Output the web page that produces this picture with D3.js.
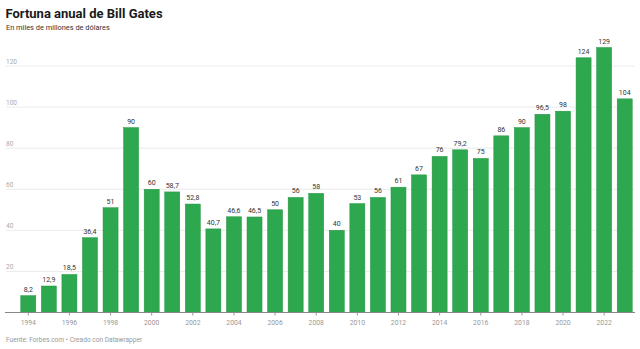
<!DOCTYPE html>
<html>
<head>
<meta charset="utf-8">
<script src="https://cdn.jsdelivr.net/npm/d3@7"></script>
<style>
html,body{margin:0;padding:0;background:#fff;}
svg{display:block;font-family:Roboto, "Noto Sans", sans-serif;}
</style>
</head>
<body>
<svg id="chart" width="640" height="349"></svg>
<script>
const years = d3.range(1994, 2024).map(String);
const fortune = [8.2, 12.9, 18.5, 36.4, 51, 90, 60, 58.7, 52.8, 40.7, 46.6, 46.5, 50, 56, 58, 40, 53, 56, 61, 67, 76, 79.2, 75, 86, 90, 96.5, 98, 124, 129, 104];
const yTicks = [20, 40, 60, 80, 100, 120];
const xTickYears = ["1994","1996","1998","2000","2002","2004","2006","2008","2010","2012","2014","2016","2018","2020","2022"];
const title = "Fortuna anual de Bill Gates";
const subtitle = "En miles de millones de dólares";
const footer = "Fuente: Forbes.com • Creado con Datawrapper";

const svg = d3.select("#chart");
const fmt = v => String(v).replace(".", ",");

const x = d3.scaleBand().domain(years).range([18, 635]).paddingInner(0.27).paddingOuter(0.135);
const y = d3.scaleLinear().domain([0, 120]).range([312.5, 66]);

svg.append("text").attr("x", 5.5).attr("y", 17.5).text(title)
  .attr("font-size", 13).attr("font-weight", 700).attr("fill", "#1a1a1a");
svg.append("text").attr("x", 6).attr("y", 30).text(subtitle)
  .attr("font-size", 7.4).attr("fill", "#333");

// gridlines
const grid = svg.append("g");
yTicks.forEach(t => {
  grid.append("line").attr("x1", 6).attr("x2", 634).attr("y1", y(t)).attr("y2", y(t))
    .attr("stroke", "#e6e6e6").attr("stroke-width", 0.8);
  grid.append("text").attr("x", 6).attr("y", y(t) - 2.5).text(t)
    .attr("font-size", 6.5).attr("fill", "#aaa");
});

// bars
svg.append("g").selectAll("rect").data(fortune).join("rect")
  .attr("x", (d, i) => x(years[i]))
  .attr("y", d => y(d))
  .attr("width", x.bandwidth())
  .attr("height", d => y(0) - y(d))
  .attr("fill", "#2ea84f")
  .attr("stroke", "#23933f").attr("stroke-width", 0.5);

svg.append("g").selectAll("text").data(fortune).join("text")
  .attr("x", (d, i) => x(years[i]) + x.bandwidth() / 2)
  .attr("y", d => y(d) - 4)
  .attr("text-anchor", "middle")
  .attr("font-size", 7).attr("fill", "#333")
  .text(d => fmt(d));

// x axis
const xAxis = d3.axisBottom(x).tickValues(xTickYears).tickSize(3).tickPadding(5);
const ax = svg.append("g").attr("transform", `translate(0,${y(0)})`).call(xAxis);
ax.select(".domain").attr("d", "M5,0H635").attr("stroke", "#888").attr("stroke-width", 1);
ax.selectAll(".tick line").attr("stroke", "#999");
ax.selectAll(".tick text").attr("font-size", 6.8).attr("fill", "#999")
  .attr("font-family", "Roboto, 'Noto Sans', sans-serif");

svg.append("text").attr("x", 6).attr("y", 341.5).text(footer)
  .attr("font-size", 6.6).attr("fill", "#999");
</script>
</body>
</html>
